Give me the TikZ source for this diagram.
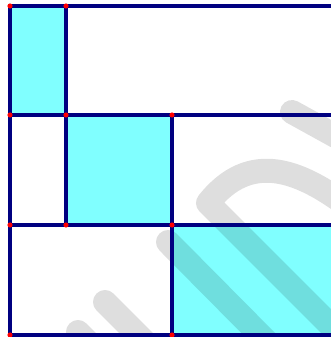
\documentclass[tikz,border=0pt]{standalone}
\definecolor{navyline}{HTML}{000080}
\definecolor{cyanfill}{HTML}{80FFFF}
\definecolor{dotred}{HTML}{FF0000}
\begin{document}
\begin{tikzpicture}[x=1pt,y=-1pt,
  gridline/.style={draw=navyline,line width=4pt},
  cell/.style={fill=cyanfill},
  wmark/.style={draw=black,draw opacity=0.13,line width=24pt,line cap=round,line join=round},
  pt/.style={fill=dotred}]
\useasboundingbox (0,0) rectangle (331,337);
\clip (0,0) rectangle (331,337);
% coordinates
\coordinate (a1) at (10,6);   \coordinate (a2) at (66,6);   \coordinate (a4) at (340,6);
\coordinate (b1) at (10,115); \coordinate (b2) at (66,115); \coordinate (b3) at (172,115); \coordinate (b4) at (340,115);
\coordinate (c1) at (10,225); \coordinate (c2) at (66,225); \coordinate (c3) at (172,225); \coordinate (c4) at (340,225);
\coordinate (d1) at (10,335); \coordinate (d3) at (172,335); \coordinate (d4) at (340,335);
% cyan cells
\fill[cell] (a1) rectangle (b2);
\fill[cell] (b2) rectangle (c3);
\fill[cell] (c3) rectangle (d4);
% watermark
\draw[wmark] (292,112) -- (350,144);
\draw[wmark] (350,208) .. controls (300,170) and (250,150) .. (208,203) -- (350,345);
\draw[wmark] (168,242) -- (280,355);
\draw[wmark] (105,302) -- (160,357);
\draw[wmark] (78,332) -- (100,354);
% grid lines
\draw[gridline] (a1) -- (a4);
\draw[gridline] (b1) -- (b4);
\draw[gridline] (c1) -- (c4);
\draw[gridline] (d1) -- (d4);
\draw[gridline] (a1) -- (d1);
\draw[gridline] (a2) -- (c2);
\draw[gridline] (b3) -- (d3);
% dots
\foreach \p in {a1,a2,b1,b2,b3,c1,c2,c3,d1,d3}
  \fill[pt] (\p) circle (2.6);
\end{tikzpicture}
\end{document}
